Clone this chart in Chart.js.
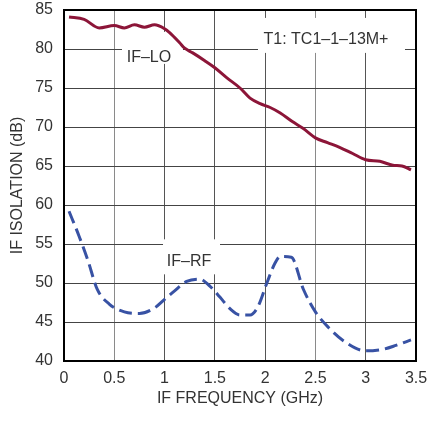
<!DOCTYPE html>
<html>
<head>
<meta charset="utf-8">
<script src="https://cdn.jsdelivr.net/npm/chart.js@4"></script>
<style>
  html, body { margin: 0; padding: 0; background: #fff; }
  #chart { display: block; }
</style>
</head>
<body>
<canvas id="chart" width="427" height="421"></canvas>
<script>
// IF-LO isolation (solid dark red)
let freqLO = [0.05, 0.2, 0.35, 0.5, 0.6, 0.7, 0.8, 0.9, 1.0, 1.05, 1.15, 1.2, 1.28, 1.4, 1.5, 1.62, 1.75, 1.85, 1.95, 2.05, 2.15, 2.27, 2.38, 2.5, 2.62, 2.74, 2.87, 3.0, 3.14, 3.27, 3.36, 3.45];
let isoLO = [84.1, 83.8, 82.7, 83.0, 82.7, 83.1, 82.8, 83.1, 82.6, 82.1, 80.8, 80.1, 79.5, 78.5, 77.6, 76.3, 75.0, 73.7, 73.0, 72.5, 71.8, 70.7, 69.8, 68.6, 68.0, 67.4, 66.6, 65.8, 65.6, 65.1, 65.0, 64.5];

// IF-RF isolation (dashed blue)
let freqRF = [0.05, 0.15, 0.24, 0.33, 0.45, 0.6, 0.75, 0.9, 1.0, 1.1, 1.22, 1.35, 1.45, 1.55, 1.65, 1.75, 1.85, 1.93, 2.02, 2.1, 2.15, 2.26, 2.38, 2.5, 2.63, 2.8, 3.0, 3.17, 3.3, 3.45];
let isoRF = [59.2, 56.0, 52.8, 49.2, 47.3, 46.3, 46.1, 46.8, 47.9, 49.0, 50.2, 50.5, 49.6, 48.2, 46.7, 45.9, 45.9, 47.0, 50.1, 52.6, 53.4, 53.3, 49.2, 46.3, 44.3, 42.4, 41.3, 41.5, 42.0, 42.7];

let xTicks = [0, 0.5, 1, 1.5, 2, 2.5, 3, 3.5];
let yTicks = [40, 45, 50, 55, 60, 65, 70, 75, 80, 85];

let noteText = ["IF\u2013LO", "T1: TC1\u20131\u201313M+", "IF\u2013RF"];

const FONT = "'Liberation Sans Narrow', 'Liberation Sans', Arial, sans-serif";
const FSIZE = 16;
const TXT = "#333";

// where each note sits (data units) and its white box around the text (px)
const notePlace = [
  { x: 0.845, y: 78.86, box: [-27, -26, 61, 32] },
  { x: 2.605, y: 81.23, box: [-68, -21.5, 147, 35] },
  { x: 1.243, y: 52.78, box: [-26, -22, 57, 35] }
];

function toPoints(xs, ys) {
  return xs.map((x, i) => ({ x: x, y: ys[i] }));
}

// white-boxed notes + black frame, drawn over the grid
const overlay = {
  id: "overlay",
  beforeDatasetsDraw(chart) {
    let ctx = chart.ctx;
    let xs = chart.scales.x, ys = chart.scales.y;
    ctx.save();
    noteText.forEach((t, i) => {
      let p = notePlace[i];
      let px = xs.getPixelForValue(p.x);
      let py = ys.getPixelForValue(p.y);
      ctx.fillStyle = "#fff";
      ctx.fillRect(px + p.box[0], py + p.box[1], p.box[2], p.box[3]);
      ctx.fillStyle = TXT;
      ctx.font = FSIZE + "px " + FONT;
      ctx.textAlign = "center";
      ctx.textBaseline = "middle";
      ctx.fillText(t, px, py);
    });
    let a = chart.chartArea;
    ctx.strokeStyle = "#000";
    ctx.lineWidth = 2;
    ctx.strokeRect(a.left, a.top, a.right - a.left, a.bottom - a.top);
    ctx.restore();
  }
};

function setup() {
  let ctx = document.getElementById("chart").getContext("2d");
  new Chart(ctx, {
    type: "line",
    data: {
      datasets: [
        {
          label: "IF-LO",
          data: toPoints(freqLO, isoLO),
          borderColor: "#8c1538",
          borderWidth: 3,
          pointRadius: 0,
          fill: false,
          cubicInterpolationMode: "monotone"
        },
        {
          label: "IF-RF",
          data: toPoints(freqRF, isoRF),
          borderColor: "#3852a4",
          borderWidth: 3,
          borderDash: [13, 6],
          pointRadius: 0,
          fill: false,
          cubicInterpolationMode: "monotone"
        }
      ]
    },
    options: {
      responsive: false,
      animation: false,
      devicePixelRatio: 1,
      layout: { padding: { left: 0, top: 10, right: 11, bottom: 0 } },
      plugins: { legend: { display: false }, tooltip: { enabled: false } },
      scales: {
        x: {
          type: "linear",
          min: 0,
          max: 3.5,
          afterBuildTicks: s => { s.ticks = xTicks.map(v => ({ value: v })); },
          afterFit: s => { s.height = 60; s.paddingLeft = 0; s.paddingRight = 0; },
          ticks: {
            color: TXT,
            font: { family: FONT, size: FSIZE },
            padding: 8,
            maxRotation: 0,
            callback: v => String(v)
          },
          grid: {
            color: c => (c.tick && (c.tick.value === 0.5 || c.tick.value === 2.5)) ? "#8a8a8a" : "#555",
            lineWidth: 1,
            drawTicks: false
          },
          border: { display: false },
          title: {
            display: true,
            text: "IF FREQUENCY (GHz)",
            color: TXT,
            font: { family: FONT, size: FSIZE },
            padding: { top: 0, bottom: 13 }
          }
        },
        y: {
          type: "linear",
          min: 40,
          max: 85,
          afterBuildTicks: s => { s.ticks = yTicks.map(v => ({ value: v })); },
          afterFit: s => { s.width = 64; s.paddingTop = 0; s.paddingBottom = 0; },
          ticks: {
            color: TXT,
            font: { family: FONT, size: FSIZE },
            padding: 11
          },
          grid: { color: "#444", lineWidth: 1, drawTicks: false },
          border: { display: false },
          title: {
            display: true,
            text: "IF ISOLATION (dB)",
            color: TXT,
            font: { family: FONT, size: FSIZE },
            padding: { top: 8, bottom: 0 }
          }
        }
      }
    },
    plugins: [overlay]
  });
}

window.addEventListener("DOMContentLoaded", setup);
</script>
</body>
</html>
